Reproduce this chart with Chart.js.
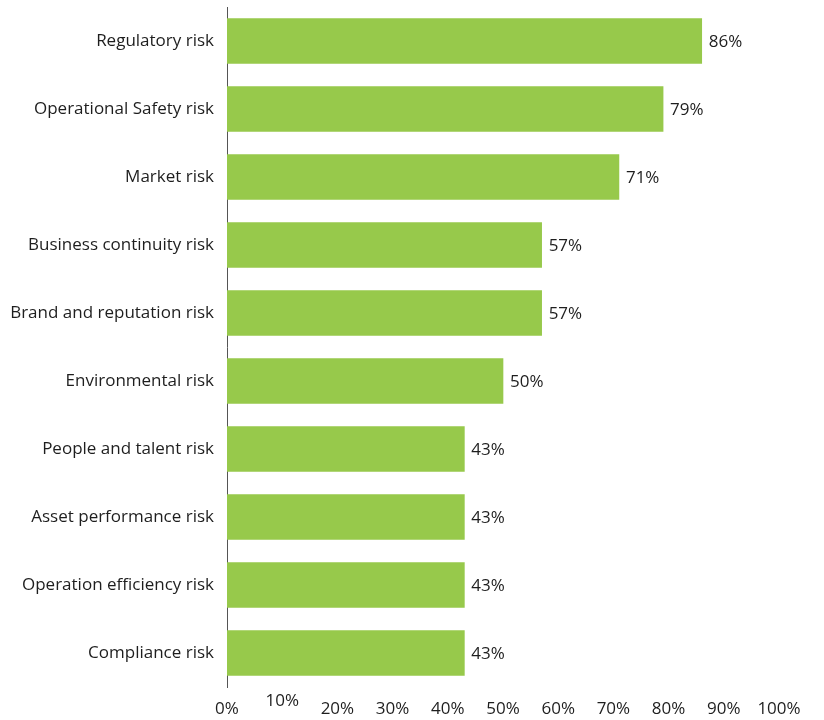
<!DOCTYPE html>
<html>
<head>
<meta charset="utf-8">
<script src="https://cdn.jsdelivr.net/npm/chart.js@4/dist/chart.umd.min.js"></script>
<style>
  html, body { margin: 0; padding: 0; background: #fff; }
</style>
</head>
<body>
<canvas id="riskChart" width="824" height="720"></canvas>
<script>
const categories = [
  'Regulatory risk',
  'Operational Safety risk',
  'Market risk',
  'Business continuity risk',
  'Brand and reputation risk',
  'Environmental risk',
  'People and talent risk',
  'Asset performance risk',
  'Operation efficiency risk',
  'Compliance risk'
];
const shares = [86, 79, 71, 57, 57, 50, 43, 43, 43, 43];
const raisedTicks = [10]; // the 10% label sits a little higher in the original

const BAR_GREEN = 'rgb(151, 201, 75)';
const TEXT = '#1e1e1e';
const FONT = "'Open Sans', 'Noto Sans', sans-serif";
const FONT_SIZE = 17;

// value labels at the end of each bar
const valueLabels = {
  id: 'valueLabels',
  afterDatasetsDraw(chart) {
    const ctx = chart.ctx;
    const meta = chart.getDatasetMeta(0);
    ctx.save();
    ctx.font = FONT_SIZE + 'px ' + FONT;
    ctx.fillStyle = TEXT;
    ctx.textAlign = 'left';
    ctx.textBaseline = 'middle';
    meta.data.forEach((bar, i) => {
      ctx.fillText(shares[i] + '%', bar.x + 7, bar.y + 1);
    });
    ctx.restore();
  }
};

// x tick labels, drawn by hand so one can be lifted
const xTickLabels = {
  id: 'xTickLabels',
  afterDraw(chart) {
    const ctx = chart.ctx;
    const xs = chart.scales.x;
    ctx.save();
    ctx.font = FONT_SIZE + 'px ' + FONT;
    ctx.fillStyle = TEXT;
    ctx.textAlign = 'center';
    ctx.textBaseline = 'middle';
    xs.ticks.forEach(t => {
      const px = xs.getPixelForValue(t.value);
      const y = raisedTicks.includes(t.value) ? 701 : 709;
      ctx.fillText(t.value + '%', px, y);
    });
    ctx.restore();
  }
};

const ctx = document.getElementById('riskChart').getContext('2d');
new Chart(ctx, {
  type: 'bar',
  data: {
    labels: categories,
    datasets: [{
      data: shares,
      backgroundColor: BAR_GREEN,
      borderWidth: 0,
      barThickness: 45
    }]
  },
  options: {
    indexAxis: 'y',
    responsive: false,
    animation: false,
    layout: { padding: { top: 7, right: 45, bottom: 0, left: 0 } },
    plugins: {
      legend: { display: false },
      tooltip: { enabled: false }
    },
    scales: {
      x: {
        min: 0,
        max: 100,
        grid: { display: false },
        border: { display: false },
        ticks: { stepSize: 10, color: 'rgba(0,0,0,0)', font: { size: FONT_SIZE, family: FONT } },
        afterFit(scale) { scale.height = 33; scale.paddingLeft = 0; scale.paddingRight = 0; }
      },
      y: {
        grid: { display: false, drawTicks: false },
        border: { display: true, color: '#555555', width: 1 },
        ticks: { color: TEXT, padding: 13, font: { size: FONT_SIZE, family: FONT } },
        afterFit(scale) { scale.width = 227; scale.paddingTop = 0; scale.paddingBottom = 0; }
      }
    }
  },
  plugins: [valueLabels, xTickLabels]
});
</script>
</body>
</html>
